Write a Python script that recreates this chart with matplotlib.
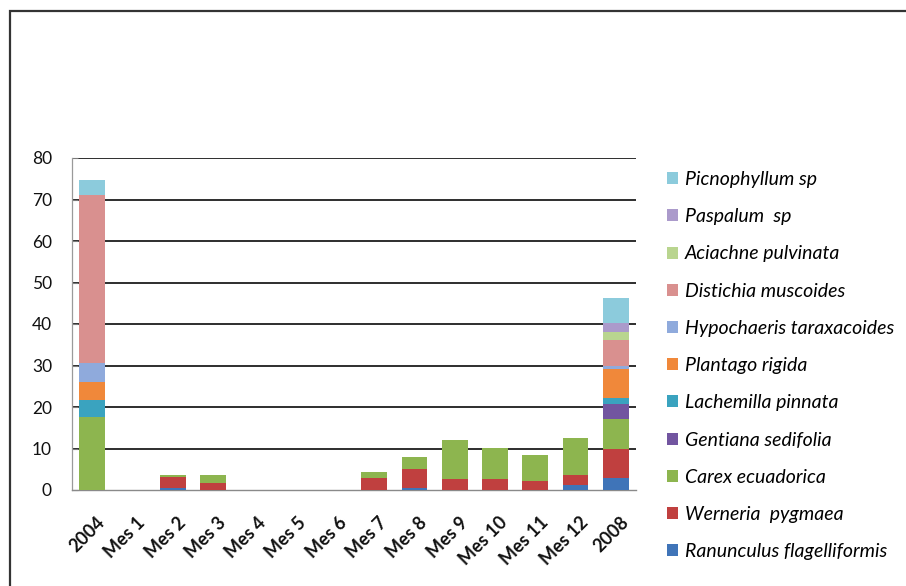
import matplotlib
matplotlib.use("Agg")
import matplotlib.pyplot as plt
import matplotlib.transforms as mtransforms
from matplotlib.patches import Patch, Rectangle
import numpy as np

plt.rcParams['font.family'] = ['Lato', 'DejaVu Sans']

categories = ["2004", "Mes 1", "Mes 2", "Mes 3", "Mes 4", "Mes 5", "Mes 6",
              "Mes 7", "Mes 8", "Mes 9", "Mes 10", "Mes 11", "Mes 12", "2008"]

# species, bottom of the stack first
ranunculus   = [0, 0, 0.4, 0, 0, 0, 0, 0, 0.6, 0, 0, 0, 1.1, 3.0]
werneria     = [0, 0, 2.8, 1.8, 0, 0, 0, 3.0, 4.4, 2.6, 2.6, 2.1, 2.4, 7.0]
carex        = [17.5, 0, 0.5, 1.9, 0, 0, 0, 1.4, 3.0, 9.4, 7.5, 6.4, 9.0, 7.0]
gentiana     = [0, 0, 0, 0, 0, 0, 0, 0, 0, 0, 0, 0, 0, 3.8]
lachemilla   = [4.3, 0, 0, 0, 0, 0, 0, 0, 0, 0, 0, 0, 0, 1.3]
plantago     = [4.2, 0, 0, 0, 0, 0, 0, 0, 0, 0, 0, 0, 0, 7.0]
hypochaeris  = [4.5, 0, 0, 0, 0, 0, 0, 0, 0, 0, 0, 0, 0, 0.8]
distichia    = [40.5, 0, 0, 0, 0, 0, 0, 0, 0, 0, 0, 0, 0, 6.2]
aciachne     = [0, 0, 0, 0, 0, 0, 0, 0, 0, 0, 0, 0, 0, 2.0]
paspalum     = [0, 0, 0, 0, 0, 0, 0, 0, 0, 0, 0, 0, 0, 2.1]
picnophyllum = [3.8, 0, 0, 0, 0, 0, 0, 0, 0, 0, 0, 0, 0, 6.0]

names = ["Ranunculus flagelliformis", "Werneria  pygmaea", "Carex ecuadorica",
         "Gentiana sedifolia", "Lachemilla pinnata", "Plantago rigida",
         "Hypochaeris taraxacoides", "Distichia muscoides", "Aciachne pulvinata",
         "Paspalum  sp", "Picnophyllum sp"]
series = [ranunculus, werneria, carex, gentiana, lachemilla, plantago,
          hypochaeris, distichia, aciachne, paspalum, picnophyllum]
colors = ["#3f74b8", "#c0403f", "#8db54f", "#7255a0", "#3aa3bf", "#f0883a",
          "#8faadc", "#d9908f", "#b9d58f", "#ab9acb", "#8ccbdc"]

fig = plt.figure(figsize=(9.06, 5.86), dpi=100)
ax = fig.add_axes([72/906, 96/586, 564/906, 332/586])

x = np.arange(len(categories))
bottom = np.zeros(len(categories))
for vals, c in zip(series, colors):
    v = np.array(vals, dtype=float)
    ax.bar(x, v, bottom=bottom, width=0.64, color=c, edgecolor='none', zorder=3)
    bottom += v

ax.set_xlim(-0.5, len(categories) - 0.5)
ax.set_ylim(0, 80)
ax.set_yticks(range(0, 81, 10))
for yv in range(10, 81, 10):
    ax.axhline(yv, color='#2e2e2e', lw=1.4, zorder=1)

for s in ['top', 'right']:
    ax.spines[s].set_visible(False)
ax.spines['left'].set_color('#9a9a9a')
ax.spines['left'].set_linewidth(0.9)
ax.spines['bottom'].set_color('#8a8a8a')
ax.spines['bottom'].set_linewidth(1.0)

ax.tick_params(axis='y', direction='in', length=4, color='#7a7a7a',
               labelsize=12.5, pad=14.4, labelcolor='#111111')
ax.tick_params(axis='x', length=0, pad=17)
ax.set_xticks(x)
ax.set_xticklabels(categories, rotation=45, ha='right', va='top',
                   rotation_mode='anchor', fontsize=13, fontweight='bold',
                   color='#111111')
offset = mtransforms.ScaledTranslation(4/100, 0, fig.dpi_scale_trans)
for lab in ax.get_xticklabels():
    lab.set_transform(lab.get_transform() + offset)

handles = [Patch(facecolor=c, edgecolor='none') for c in colors][::-1]
leg = fig.legend(handles, names[::-1], loc='upper left',
                 bbox_to_anchor=(667/906, 1 - 171/586), frameon=False,
                 prop={'style': 'italic', 'size': 14},
                 handlelength=0.57, handleheight=0.57, handletextpad=0.35,
                 labelspacing=1.04, borderaxespad=0, borderpad=0)

# outer frame, running past the right and bottom edges
fig.patches.append(Rectangle((10/906, -0.05), 1.2, 1 - 11/586 + 0.05,
                             transform=fig.transFigure, fill=False,
                             edgecolor='#333333', lw=1.6))

fig.savefig("out.png", dpi=100)
